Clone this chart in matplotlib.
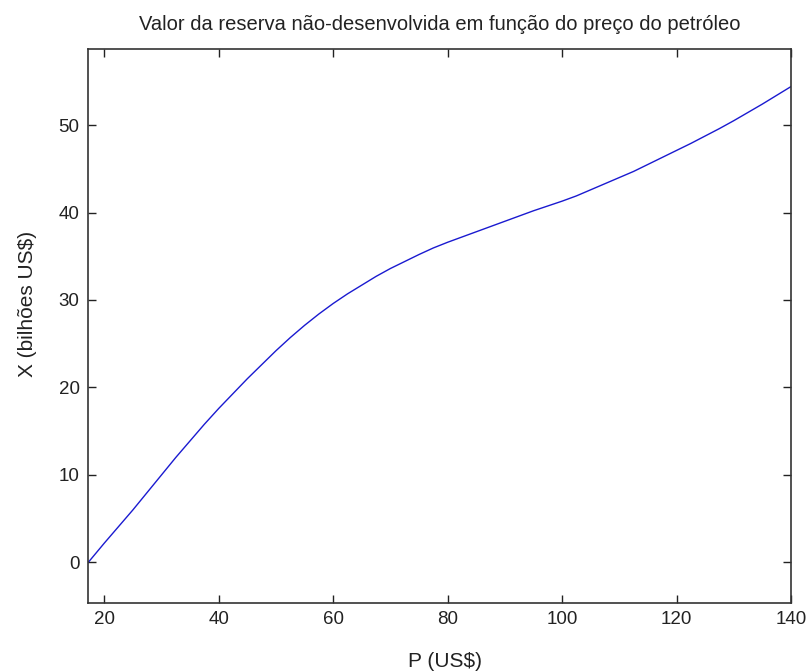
import numpy as np
import matplotlib.pyplot as plt

plt.rcParams['font.family'] = ['Liberation Sans', 'DejaVu Sans']

# preço do petróleo (US$) e valor da reserva (bilhões US$)
preco = [17.2, 20, 22.5, 25, 27.5, 30, 32.5, 35, 37.5, 40, 42.5, 45, 47.5,
         50, 52.5, 55, 57.5, 60, 62.5, 65, 67.5, 70, 72.5, 75, 77.5, 80,
         82.5, 85, 87.5, 90, 92.5, 95, 97.5, 100, 102.5, 105, 107.5, 110,
         112.5, 115, 117.5, 120, 122.5, 125, 127.5, 130, 132.5, 135, 137.5, 140]
valor = [0.0, 2.2, 4.1, 6.0, 8.0, 10.0, 12.0, 13.9, 15.8, 17.6, 19.3, 21.0,
         22.6, 24.2, 25.7, 27.1, 28.4, 29.6, 30.7, 31.7, 32.7, 33.6, 34.4,
         35.2, 35.95, 36.6, 37.2, 37.8, 38.4, 39.0, 39.6, 40.2, 40.75, 41.3,
         41.9, 42.6, 43.3, 44.0, 44.7, 45.5, 46.3, 47.1, 47.9, 48.75, 49.6,
         50.5, 51.45, 52.4, 53.4, 54.4]

xticks = [20, 40, 60, 80, 100, 120, 140]
yticks = [0, 10, 20, 30, 40, 50]

fig = plt.figure(figsize=(8.11, 6.71), dpi=100)
ax = fig.add_axes([0.1085, 0.1013, 0.8668, 0.8257])
ax.plot(preco, valor, color='#1a1ad0', linewidth=1.0)

ax.set_xlim(17.15, 140)
ax.set_ylim(-4.65, 58.7)
ax.set_xticks(xticks)
ax.set_yticks(yticks)
ax.tick_params(direction='in', length=6, width=1, top=True, right=True,
               labelsize=13.5, colors='#222222', pad=6)
for s in ax.spines.values():
    s.set_linewidth(1.2)
    s.set_color('#333333')

ax.set_title('Valor da reserva não-desenvolvida em função do preço do petróleo',
             fontsize=14.5, color='#222222', pad=14)
ax.set_xlabel('P (US$)', fontsize=15, color='#222222')
ax.set_ylabel('X (bilhões US$)', fontsize=15, color='#222222')
ax.xaxis.set_label_coords(0.508, -0.088)
ax.yaxis.set_label_coords(-0.073, 0.54)

fig.savefig('out.png', dpi=100, facecolor='white')
